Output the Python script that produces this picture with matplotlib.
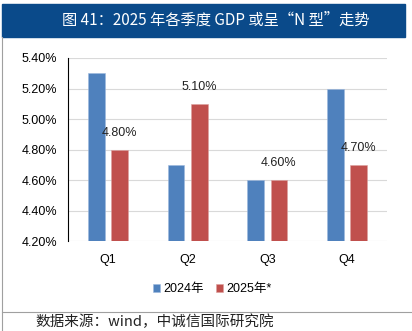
import matplotlib
matplotlib.use("Agg")
import matplotlib.pyplot as plt
from matplotlib.patches import Rectangle
from matplotlib.lines import Line2D
import numpy as np

plt.rcParams['font.family'] = ['Liberation Sans', 'Noto Sans CJK SC', 'DejaVu Sans']

quarters = ['Q1', 'Q2', 'Q3', 'Q4']
gdp_2024 = [5.3, 4.7, 4.6, 5.2]
gdp_2025 = [4.8, 5.1, 4.6, 4.7]
yticks = [4.2, 4.4, 4.6, 4.8, 5.0, 5.2, 5.4]

blue = '#4F81BD'
red = '#C0504D'
cjk = ['Noto Sans CJK SC', 'DejaVu Sans']

fig = plt.figure(figsize=(4.12, 3.31), dpi=100)

# header band
fig.patches.append(Rectangle((2 / 412, 1 - 37 / 331), 403 / 412, 33 / 331,
                             transform=fig.transFigure, color='#0A4A8A', zorder=0))
fig.text(62 / 412, 1 - 20 / 331, '图 41：2025 年各季度 GDP 或呈“N 型”走势',
         color='white', fontsize=11, va='center', ha='left', family=cjk)

# frame lines
fig.add_artist(Line2D([2 / 412, 2 / 412], [0, 1 - 37 / 331], transform=fig.transFigure,
                      color='#A0A0A0', lw=0.8))
fig.add_artist(Line2D([2 / 412, 1], [1 - 312 / 331, 1 - 312 / 331], transform=fig.transFigure,
                      color='#A0A0A0', lw=0.8))

ax = fig.add_axes([68 / 412, 1 - 241 / 331, 319 / 412, 183 / 331])
x = np.arange(len(quarters))
w = 0.21
off = 0.145
ax.bar(x - off, gdp_2024, w, color=blue, edgecolor='#9DB8DD', lw=0.4,
       label='2024年', zorder=3)
ax.bar(x + off, gdp_2025, w, color=red, edgecolor='#DDA09E', lw=0.4,
       label='2025年*', zorder=3)
for xi, v in zip(x, gdp_2025):
    ax.annotate(f'{v:.2f}%', (xi + off, v), xytext=(0, 12), textcoords='offset points',
                ha='center', va='center', fontsize=9, color='#222222')

ax.set_ylim(4.2, 5.4)
ax.set_xlim(-0.5, 3.5)
ax.set_yticks(yticks)
ax.set_yticklabels([f'{t:.2f}%' for t in yticks], fontsize=9)
ax.set_xticks(x)
ax.set_xticklabels(quarters, fontsize=9)
ax.tick_params(length=0, pad=8)
ax.tick_params(axis='x', pad=9)
ax.grid(axis='y', color='#D9D9D9', lw=0.8, zorder=0)
for s in ['top', 'right', 'bottom']:
    ax.spines[s].set_visible(False)
ax.spines['left'].set_color('black')
ax.spines['left'].set_linewidth(0.8)

fig.legend(handles=ax.patches[:1] + ax.patches[4:5], labels=['2024年', '2025年*'],
           loc='center', bbox_to_anchor=(212 / 412, 1 - 289 / 331), ncol=2, frameon=False,
           fontsize=9, handlelength=0.6, handleheight=0.6, handletextpad=0.2,
           columnspacing=1.0)

fig.text(35 / 412, 1 - 322 / 331, '数据来源：wind，中诚信国际研究院', fontsize=10.5,
         va='center', ha='left', color='#222222', family=cjk)

fig.savefig('out.png', dpi=100)
